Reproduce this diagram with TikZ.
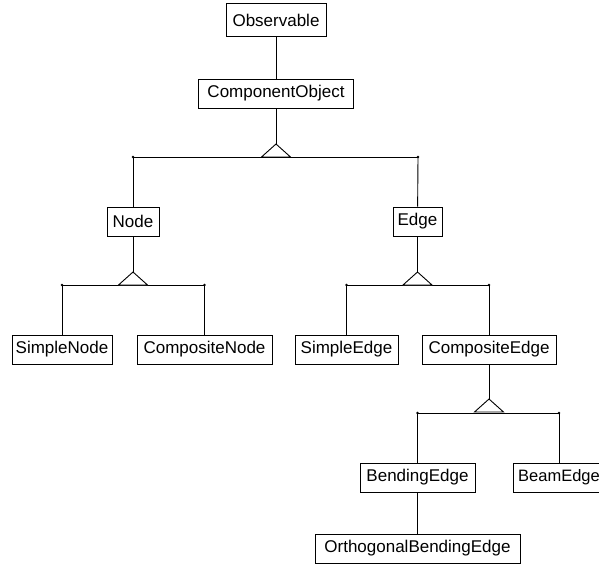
\documentclass[tikz,border=0pt]{standalone}
\usepackage{fontspec}
\setmainfont{Liberation Sans}
\begin{document}
\begin{tikzpicture}[x=1pt,y=-1pt,
  cls/.style={draw, line width=0.9pt, inner sep=0pt, minimum height=29pt, font=\fontsize{17}{19}\selectfont},
  ln/.style={line width=0.9pt},
  tri/.style={line width=0.9pt, fill=white},
  enddot/.style={fill, circle, inner sep=0pt, minimum size=2.6pt}]
\useasboundingbox (0,0) rectangle (599,564);
\clip (0,0) rectangle (599,564);
% classes
\node[cls, minimum width=100pt, minimum height=33pt] (obs) at (276,20) {Observable};
\node[cls, minimum width=155pt] (comp) at (276,93.5) {ComponentObject};
\node[cls, minimum width=52pt] (node) at (133,221.5) {Node};
\node[cls, minimum width=49pt] (edge) at (417.5,221.5) {Edge};
\node[cls, minimum width=100pt] (sn) at (62,349.5) {SimpleNode};
\node[cls, minimum width=135pt] (cn) at (204.5,349.5) {CompositeNode};
\node[cls, minimum width=103pt] (se) at (346.5,349.5) {SimpleEdge};
\node[cls, minimum width=134pt] (ce) at (489,349.5) {CompositeEdge};
\node[cls, minimum width=115pt] (be) at (417.5,477.5) {BendingEdge};
\node[cls, minimum width=92pt, font=\fontsize{16.5}{19}\selectfont] (beam) at (559,477.5) {BeamEdge\hspace{6pt}};
\node[cls, minimum width=205pt] (obe) at (417.5,548.5) {OrthogonalBendingEdge};
% inheritance junctions
\coordinate (a1) at (276,144);
\coordinate (l1) at (133,157);
\coordinate (r1) at (418,157);
\coordinate (a2) at (133,272);
\coordinate (l2) at (62,285);
\coordinate (r2) at (204.5,285);
\coordinate (a3) at (417.5,272);
\coordinate (l3) at (346.5,285);
\coordinate (r3) at (489,285);
\coordinate (a4) at (489,399);
\coordinate (l4) at (417.5,413);
\coordinate (r4) at (559,413);
% connectors
\draw[ln] (obs) -- (comp);
\draw[ln] (comp) -- (a1);
\draw[ln] (l1) -- (r1);
\draw[ln] (l1) -- (node);
\draw[ln] (r1) -- (edge);
\draw[ln] (node) -- (a2);
\draw[ln] (l2) -- (r2);
\draw[ln] (l2) -- (sn);
\draw[ln] (r2) -- (cn);
\draw[ln] (edge) -- (a3);
\draw[ln] (l3) -- (r3);
\draw[ln] (l3) -- (se);
\draw[ln] (r3) -- (ce);
\draw[ln] (ce) -- (a4);
\draw[ln] (l4) -- (r4);
\draw[ln] (l4) -- (be);
\draw[ln] (r4) -- (beam);
\draw[ln] (be) -- (obe);
% triangles
\foreach \a in {a1,a2,a3,a4} {
  \draw[tri] (\a) -- ++(-14.5,13) -- ++(29,0) -- cycle;
}
% end dots
\foreach \p in {l1,r1,l2,r2,l3,r3,l4,r4} {
  \node[enddot] at (\p) {};
}
\end{tikzpicture}
\end{document}
